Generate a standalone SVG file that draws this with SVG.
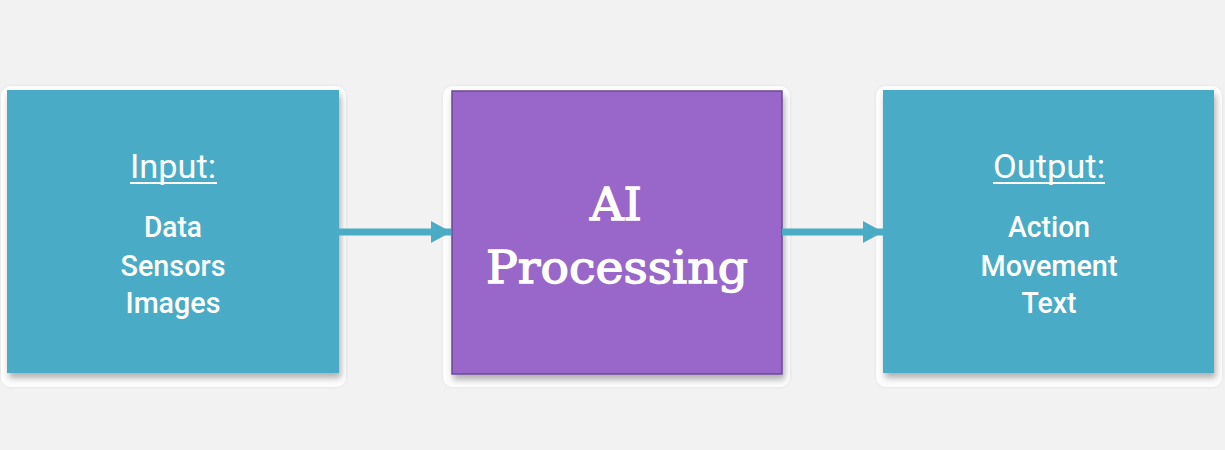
<svg xmlns="http://www.w3.org/2000/svg" width="1225" height="450" viewBox="0 0 1225 450">
<defs>
<filter id="sh" x="-10%" y="-10%" width="125%" height="130%">
<feGaussianBlur in="SourceAlpha" stdDeviation="3"/>
<feOffset dx="2" dy="5" result="b"/>
<feFlood flood-color="#000" flood-opacity="0.3"/>
<feComposite in2="b" operator="in"/>
<feMerge><feMergeNode/><feMergeNode in="SourceGraphic"/></feMerge>
</filter>
<filter id="gl" x="-10%" y="-10%" width="120%" height="120%">
<feGaussianBlur in="SourceAlpha" stdDeviation="1.5"/>
<feOffset dx="0" dy="0" result="b"/>
<feFlood flood-color="#000" flood-opacity="0.08"/>
<feComposite in2="b" operator="in"/>
<feMerge><feMergeNode/><feMergeNode in="SourceGraphic"/></feMerge>
</filter>
<marker id="ah" markerWidth="20" markerHeight="22" refX="20" refY="11" orient="auto" markerUnits="userSpaceOnUse">
<path d="M0,0 L20,11 L0,22 Z" fill="#4AABC5"/>
</marker>
</defs>
<style>
.back{fill:#FDFDFD;filter:url(#gl)}
.teal{fill:#4AABC5;filter:url(#sh)}
.purple{fill:#9966C9;stroke:#6E4897;stroke-width:1.5;filter:url(#sh)}
.lbl{font-family:Roboto,"Liberation Sans",sans-serif;font-weight:500;fill:#FFFFFF;text-anchor:middle;font-size:30px}
.head{font-size:34px;font-weight:400}
.slab{font-family:"DejaVu Serif","Liberation Serif",serif;font-weight:normal;fill:#FFFFFF;stroke:#FFFFFF;stroke-width:1.3;text-anchor:middle;font-size:45px}
.conn{stroke:#4AABC5;stroke-width:7;fill:none}
</style>
<rect width="1225" height="450" fill="#F2F2F2"/>
<g id="input">
<rect class="back" x="1" y="86" width="345" height="301" rx="10"/>
<rect class="teal" x="7" y="90" width="332" height="283"/>
<text class="lbl head" x="173" y="178" textLength="86" lengthAdjust="spacingAndGlyphs">Input:</text>
<rect x="130" y="182" width="87" height="2" fill="#FFFFFF"/>
<text class="lbl" x="173" y="237" textLength="58" lengthAdjust="spacingAndGlyphs">Data</text>
<text class="lbl" x="173" y="276" textLength="105" lengthAdjust="spacingAndGlyphs">Sensors</text>
<text class="lbl" x="173" y="313" textLength="95" lengthAdjust="spacingAndGlyphs">Images</text>
</g>
<g id="processing">
<rect class="back" x="443" y="86" width="347" height="301" rx="10"/>
<rect class="purple" x="452" y="91" width="330" height="283"/>
<text class="slab" x="616" y="220" textLength="52" lengthAdjust="spacingAndGlyphs">AI</text>
<text class="slab" x="617" y="283" textLength="262" lengthAdjust="spacingAndGlyphs">Processing</text>
</g>
<g id="output">
<rect class="back" x="876" y="86" width="346" height="301" rx="10"/>
<rect class="teal" x="883" y="90" width="331" height="283"/>
<text class="lbl head" x="1049" y="178" textLength="112" lengthAdjust="spacingAndGlyphs">Output:</text>
<rect x="993" y="182" width="112" height="2" fill="#FFFFFF"/>
<text class="lbl" x="1049" y="237" textLength="82" lengthAdjust="spacingAndGlyphs">Action</text>
<text class="lbl" x="1049" y="276" textLength="137" lengthAdjust="spacingAndGlyphs">Movement</text>
<text class="lbl" x="1049" y="313" textLength="55" lengthAdjust="spacingAndGlyphs">Text</text>
</g>
<g id="connectors">
<line class="conn" x1="339" y1="232" x2="451" y2="232" marker-end="url(#ah)"/>
<line class="conn" x1="782" y1="232" x2="883" y2="232" marker-end="url(#ah)"/>
</g>
</svg>
